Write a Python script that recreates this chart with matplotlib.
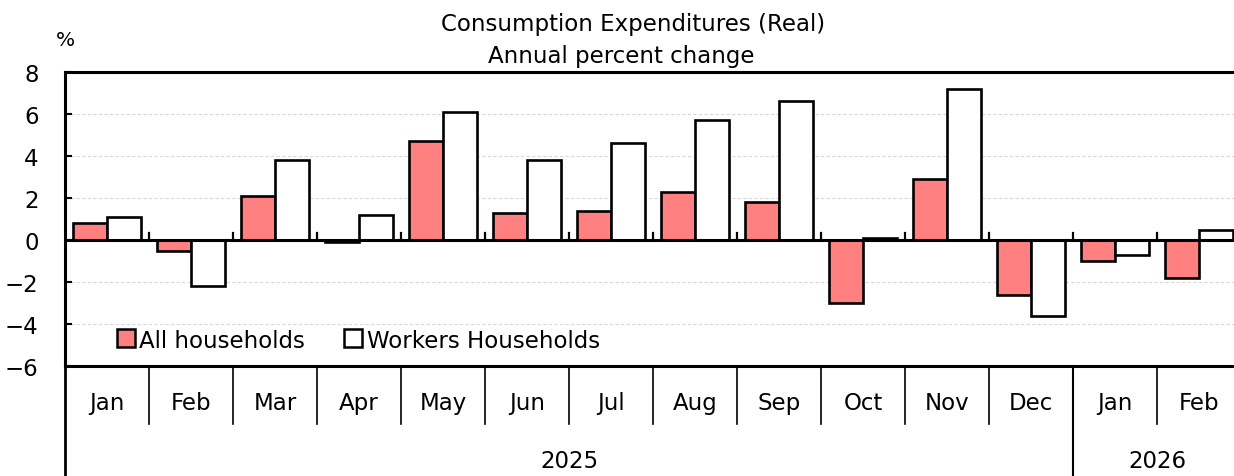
import matplotlib
matplotlib.use("Agg")
import matplotlib.pyplot as plt
from matplotlib.lines import Line2D
import numpy as np

months = ["Jan", "Feb", "Mar", "Apr", "May", "Jun", "Jul", "Aug", "Sep", "Oct", "Nov", "Dec", "Jan", "Feb"]
years = ["2025", "2026"]
year_counts = [12, 2]
all_households = [0.8, -0.5, 2.1, -0.1, 4.7, 1.3, 1.4, 2.3, 1.8, -3.0, 2.9, -2.6, -1.0, -1.8]
workers_households = [1.1, -2.2, 3.8, 1.2, 6.1, 3.8, 4.6, 5.7, 6.6, 0.1, 7.2, -3.6, -0.7, 0.5]
yticks = [-6, -4, -2, 0, 2, 4, 6, 8]

plt.rcParams['font.family'] = ['DejaVu Sans']
FS = 16.5
W, H = 1234, 477
fig = plt.figure(figsize=(W / 100, H / 100), dpi=100)
ax_l, ax_r, ax_t, ax_b = 65, 1241, 73, 367
ax = fig.add_axes([ax_l / W, (H - ax_b) / H, (ax_r - ax_l) / W, (ax_b - ax_t) / H])

n = len(months)
x = np.arange(n)
red = '#ff8080'
bw = 0.4
ax.bar(x - bw / 2, all_households, width=bw, color=red, edgecolor='black', linewidth=1.9, zorder=3)
ax.bar(x + bw / 2, workers_households, width=bw, color='white', edgecolor='black', linewidth=1.9, zorder=3)

ax.set_xlim(-0.5, n - 0.5)
ax.set_ylim(-6, 8)
ax.set_yticks(yticks)
ax.set_yticklabels([str(v).replace('-', '\u2212') for v in yticks], fontsize=FS)
ax.tick_params(axis='y', direction='in', length=5, width=1.5, pad=19)
ax.set_xticks([])
for v in [-4, -2, 2, 4, 6]:
    ax.axhline(v, color='#d8d8d8', linewidth=0.8, linestyle=(0, (3, 2)), zorder=1)
ax.axhline(0, color='black', linewidth=2.2, zorder=4)
for b in np.arange(0.5, n - 0.5, 1):
    ax.plot([b, b], [0, 0.35], color='black', linewidth=1.6, zorder=4)

for s in ['left', 'top', 'bottom']:
    ax.spines[s].set_linewidth(2.2)
ax.spines['right'].set_visible(False)

# category axis below
h = ax_b - ax_t
month_sep_y = -(425 - ax_b) / h
year_sep_y = -(H + 5 - ax_b) / h
trans = ax.get_xaxis_transform()
for i, m in enumerate(months):
    ax.text(i, -(404 - ax_b) / h, m, transform=trans, ha='center', va='center', fontsize=FS)
for b in np.arange(0.5, n - 0.5, 1):
    ax.plot([b, b], [0, month_sep_y], transform=trans, color='black', linewidth=1.2, clip_on=False)
start = -0.5
ax.plot([start, start], [0, year_sep_y], transform=trans, color='black', linewidth=2.0, clip_on=False)
for yl, c in zip(years, year_counts):
    end = start + c
    ax.text((start + end) / 2, -(462 - ax_b) / h, yl, transform=trans, ha='center', va='center', fontsize=FS)
    if end < n - 0.5:
        ax.plot([end, end], [0, year_sep_y], transform=trans, color='black', linewidth=1.5, clip_on=False)
    start = end

ax.text(0, (ax_b - 40) / h, '%', transform=ax.transAxes, ha='center', va='center', fontsize=14.5)
fig.text(633 / W, 1 - 25 / H, 'Consumption Expenditures (Real)', ha='center', va='center', fontsize=FS)
fig.text(621 / W, 1 - 57 / H, 'Annual percent change', ha='center', va='center', fontsize=FS)

handles = [Line2D([], [], marker='s', linestyle='none', markersize=13, markerfacecolor=red, markeredgecolor='black', markeredgewidth=1.8),
           Line2D([], [], marker='s', linestyle='none', markersize=13, markerfacecolor='white', markeredgecolor='black', markeredgewidth=1.8)]
ax.legend(handles, ['All households', 'Workers Households'], loc='center left',
          bbox_to_anchor=((105 - ax_l) / (ax_r - ax_l), (ax_b - 341) / h), ncol=2, frameon=False,
          fontsize=FS, handletextpad=0.1, columnspacing=1.6, handlelength=1.0, borderaxespad=0)

fig.savefig('out.png', dpi=100)
